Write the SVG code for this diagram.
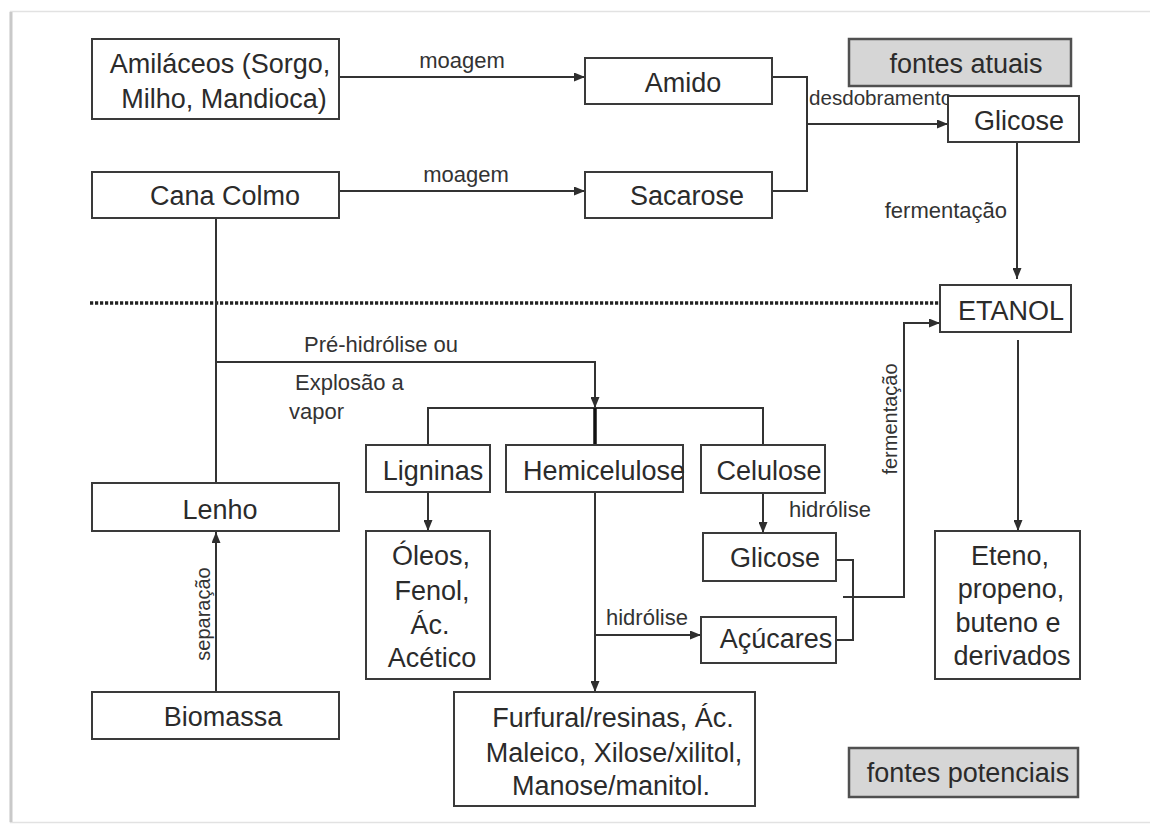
<svg xmlns="http://www.w3.org/2000/svg" width="1150" height="827" viewBox="0 0 1150 827">
  <defs>
    <marker id="arrow" viewBox="0 0 11 9" refX="11" refY="4.5" markerWidth="11" markerHeight="9" markerUnits="userSpaceOnUse" orient="auto">
      <path d="M0,0 L11,4.5 L0,9 z" fill="#2e2e2e"/>
    </marker>
    <style>
      .box { fill: #ffffff; stroke: #3a3a3a; stroke-width: 2; }
      .shade { fill: #d6d6d6; stroke: #505050; stroke-width: 2.5; }
      .t { font-family: "Liberation Sans", Arial, Helvetica, sans-serif; font-size: 27px; fill: #2b2b2b; text-anchor: middle; }
      .lbl { font-family: "Liberation Sans", Arial, Helvetica, sans-serif; font-size: 22px; fill: #333333; }
      .sm { font-family: "Liberation Sans", Arial, Helvetica, sans-serif; font-size: 20px; fill: #333333; }
      .ln { fill: none; stroke: #333333; stroke-width: 2; }
      .arr { fill: none; stroke: #333333; stroke-width: 2; marker-end: url(#arrow); }
    </style>
  </defs>

  <rect width="1150" height="827" fill="#ffffff"/>
  <!-- page frame -->
  <rect x="10.5" y="11.5" width="1150" height="811" fill="none" stroke="#e2e2e2" stroke-width="1.5"/>
  <line x1="11" y1="12" x2="11" y2="822" stroke="#c9c9c9" stroke-width="3"/>

  <!-- connectors and their labels -->
  <g id="connectors">
    <path class="arr" d="M339,77 H585"/>
    <text class="lbl" x="462" y="68" text-anchor="middle">moagem</text>
    <path class="arr" d="M339,191 H585"/>
    <text class="lbl" x="466" y="182" text-anchor="middle">moagem</text>

    <path class="ln" d="M772,77 H807 V191 H772"/>
    <path class="arr" d="M807,124 H948"/>
    <text class="sm" x="809" y="105" style="font-size:20.6px">desdobramento</text>

    <path class="arr" d="M1017,142 V279"/>
    <text class="lbl" x="1007" y="218" text-anchor="end">fermentação</text>

    <path class="arr" d="M1018,340 V531"/>

    <!-- current / potential sources divider -->
    <line x1="90" y1="303" x2="940" y2="303" stroke="#222222" stroke-width="3.5" stroke-dasharray="3.2 1.8"/>

    <path class="ln" d="M216,218 V483"/>
    <path class="arr" d="M216,362 H595 V408"/>
    <text class="lbl" x="304" y="352">Pré-hidrólise ou</text>
    <text class="lbl" x="295" y="390">Explosão a</text>
    <text class="lbl" x="289" y="419">vapor</text>

    <path class="ln" d="M428,445 V408 H763 V445"/>
    <line x1="595" y1="408" x2="595" y2="445" stroke="#111111" stroke-width="3.5"/>

    <path class="arr" d="M428,492 V531"/>
    <path class="arr" d="M595,492 V692"/>
    <path class="arr" d="M595,635 H701"/>
    <text class="lbl" x="606" y="625">hidrólise</text>

    <path class="arr" d="M763,493 V533"/>
    <text class="lbl" x="789" y="517">hidrólise</text>

    <path class="ln" d="M836,560 H853 V640 H836"/>
    <path class="arr" d="M843,597 H904 V323 H940"/>
    <text class="sm" transform="translate(897,419) rotate(-90)" text-anchor="middle">fermentação</text>

    <path class="arr" d="M216,692 V532"/>
    <text class="sm" transform="translate(210,614) rotate(-90)" text-anchor="middle">separação</text>
  </g>

  <!-- nodes -->
  <g id="amilaceos">
    <rect class="box" x="92" y="39" width="247" height="80"/>
    <text class="t" x="220" y="73">Amiláceos (Sorgo,</text>
    <text class="t" x="224" y="108">Milho, Mandioca)</text>
  </g>
  <g id="cana-colmo">
    <rect class="box" x="92" y="172" width="247" height="46"/>
    <text class="t" x="225" y="205">Cana Colmo</text>
  </g>
  <g id="amido">
    <rect class="box" x="585" y="58" width="187" height="46"/>
    <text class="t" x="683" y="92">Amido</text>
  </g>
  <g id="sacarose">
    <rect class="box" x="585" y="172" width="187" height="46"/>
    <text class="t" x="687" y="205">Sacarose</text>
  </g>
  <g id="fontes-atuais">
    <rect class="shade" x="849" y="39" width="222" height="47"/>
    <text class="t" x="966" y="73">fontes atuais</text>
  </g>
  <g id="glicose-1">
    <rect class="box" x="948" y="96" width="131" height="46"/>
    <text class="t" x="1019" y="130">Glicose</text>
  </g>
  <g id="etanol">
    <rect class="box" x="940" y="285" width="131" height="47"/>
    <text class="t" x="1011" y="320">ETANOL</text>
  </g>
  <g id="ligninas">
    <rect class="box" x="366" y="445" width="124" height="47"/>
    <text class="t" x="433" y="480">Ligninas</text>
  </g>
  <g id="hemicelulose">
    <rect class="box" x="506" y="445" width="177" height="47"/>
    <text class="t" x="604" y="480">Hemicelulose</text>
  </g>
  <g id="celulose">
    <rect class="box" x="701" y="445" width="124" height="48"/>
    <text class="t" x="769" y="480">Celulose</text>
  </g>
  <g id="glicose-2">
    <rect class="box" x="703" y="533" width="133" height="48"/>
    <text class="t" x="775" y="567">Glicose</text>
  </g>
  <g id="acucares">
    <rect class="box" x="701" y="617" width="135" height="46"/>
    <text class="t" x="776" y="648">Açúcares</text>
  </g>
  <g id="oleos">
    <rect class="box" x="366" y="531" width="124" height="148"/>
    <text class="t" x="431" y="565">Óleos,</text>
    <text class="t" x="432" y="600">Fenol,</text>
    <text class="t" x="430" y="634">Ác.</text>
    <text class="t" x="432" y="667">Acético</text>
  </g>
  <g id="furfural">
    <rect class="box" x="454" y="692" width="301" height="114"/>
    <text class="t" x="613" y="727">Furfural/resinas, Ác.</text>
    <text class="t" x="614" y="762">Maleico, Xilose/xilitol,</text>
    <text class="t" x="611" y="795">Manose/manitol.</text>
  </g>
  <g id="eteno">
    <rect class="box" x="935" y="531" width="145" height="148"/>
    <text class="t" x="1010" y="565">Eteno,</text>
    <text class="t" x="1011" y="598">propeno,</text>
    <text class="t" x="1008" y="632">buteno e</text>
    <text class="t" x="1012" y="665">derivados</text>
  </g>
  <g id="lenho">
    <rect class="box" x="92" y="483" width="247" height="48"/>
    <text class="t" x="220" y="519">Lenho</text>
  </g>
  <g id="biomassa">
    <rect class="box" x="92" y="692" width="247" height="47"/>
    <text class="t" x="223" y="726">Biomassa</text>
  </g>
  <g id="fontes-potenciais">
    <rect class="shade" x="849" y="748" width="229" height="49"/>
    <text class="t" x="968" y="782">fontes potenciais</text>
  </g>
</svg>
